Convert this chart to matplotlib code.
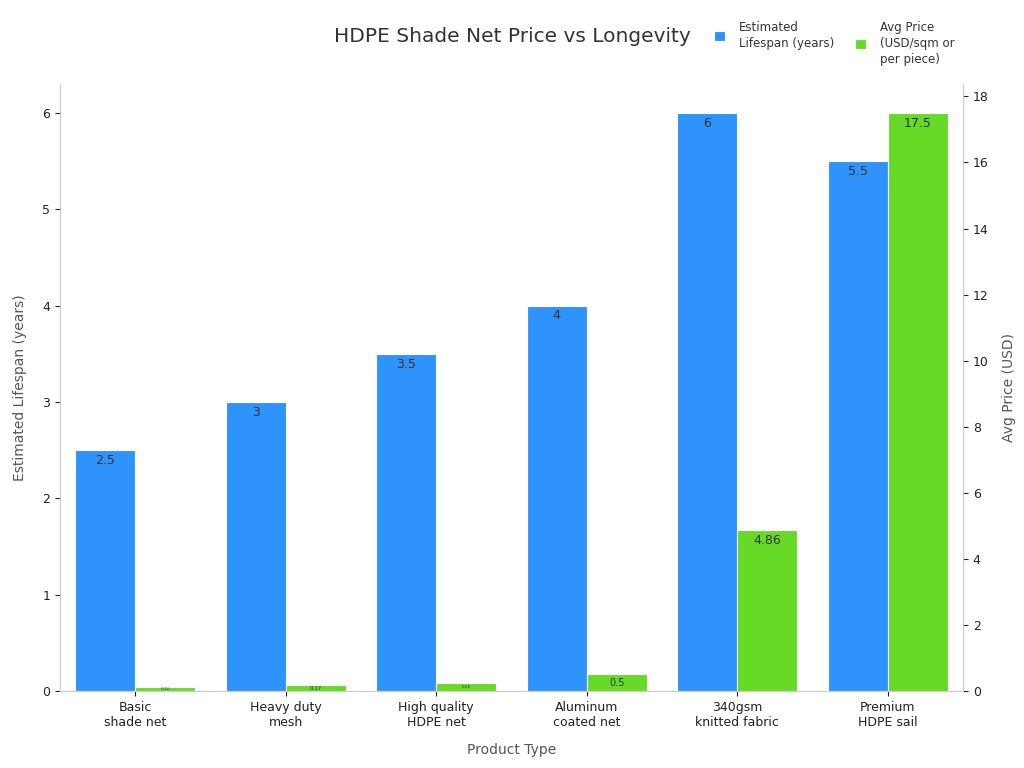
import matplotlib
matplotlib.use('Agg')
import matplotlib.pyplot as plt
import numpy as np

categories = ['Basic\nshade net', 'Heavy duty\nmesh', 'High quality\nHDPE net',
              'Aluminum\ncoated net', '340gsm\nknitted fabric', 'Premium\nHDPE sail']
lifespan = [2.5, 3, 3.5, 4, 6, 5.5]
price = [0.12, 0.17, 0.25, 0.5, 4.86, 17.5]
price_labels = ['0.12', '0.17', '0.25', '0.5', '4.86', '17.5']

blue = '#2E93FA'
green = '#66DA26'
grey = '#555555'

fig = plt.figure(figsize=(10.24, 7.68), dpi=100)
ax = fig.add_axes([0.0586, 0.1003, 0.8818, 0.7903])
ax2 = ax.twinx()

x = np.arange(len(categories))
w = 0.4
b1 = ax.bar(x - w / 2, lifespan, w, color=blue, edgecolor='white', linewidth=0.8,
            label='Estimated\nLifespan (years)')
b2 = ax2.bar(x + w / 2, price, w, color=green, edgecolor='white', linewidth=0.8,
             label='Avg Price\n(USD/sqm or\nper piece)')

ax.set_xlim(-0.5, len(categories) - 0.5)
ax.set_ylim(0, max(lifespan) * 1.05)
ax2.set_ylim(0, max(price) * 1.05)

# labels inside the top of the bars
for r, v in zip(b1, lifespan):
    ax.text(r.get_x() + r.get_width() / 2, v - 0.04, f'{v:g}', ha='center', va='top',
            fontsize=9, color='#333333')
label_sizes = [3, 4, 3, 7, 9, 9]
for r, v, s, fs in zip(b2, price, price_labels, label_sizes):
    if v > 1:
        ax2.text(r.get_x() + r.get_width() / 2, v - 0.12, s, ha='center', va='top',
                 fontsize=fs, color='#333333')
    else:
        ax2.text(r.get_x() + r.get_width() / 2, v / 2, s, ha='center', va='center',
                 fontsize=fs, color='#333333')

ax.set_xticks(x)
ax.set_xticklabels(categories, fontsize=9, color='#222222')
ax.set_xlabel('Product Type', fontsize=10, color=grey, labelpad=10)
ax.set_ylabel('Estimated Lifespan (years)', fontsize=10, color=grey, labelpad=11)
ax2.set_ylabel('Avg Price (USD)', fontsize=10, color=grey, labelpad=10)
ax.tick_params(axis='y', labelsize=9, colors='#222222')
ax2.tick_params(axis='y', labelsize=9, colors='#222222')
ax.tick_params(axis='x', colors='#222222')
ax2.set_yticks(np.arange(0, 19, 2))

for a in (ax, ax2):
    a.spines['top'].set_visible(False)
    for s in ('left', 'right', 'bottom'):
        a.spines[s].set_color('#cccccc')

fig.text(0.5, 0.953, 'HDPE Shade Net Price vs Longevity', ha='center', va='center',
         fontsize=14.5, color='#333333')

# two legends so both entries are top-aligned
for bars, lab, xa in ((b1, b1.get_label(), 0.687), (b2, b2.get_label(), 0.825)):
    leg = fig.legend([bars], [lab], loc='upper left', bbox_to_anchor=(xa, 0.987),
                     frameon=False, fontsize=8.5, handlelength=0.9, handleheight=0.9,
                     handletextpad=1.2)
    for t in leg.get_texts():
        t.set_linespacing(1.3)
        t.set_color('#333333')

fig.savefig('out.png', dpi=100)
